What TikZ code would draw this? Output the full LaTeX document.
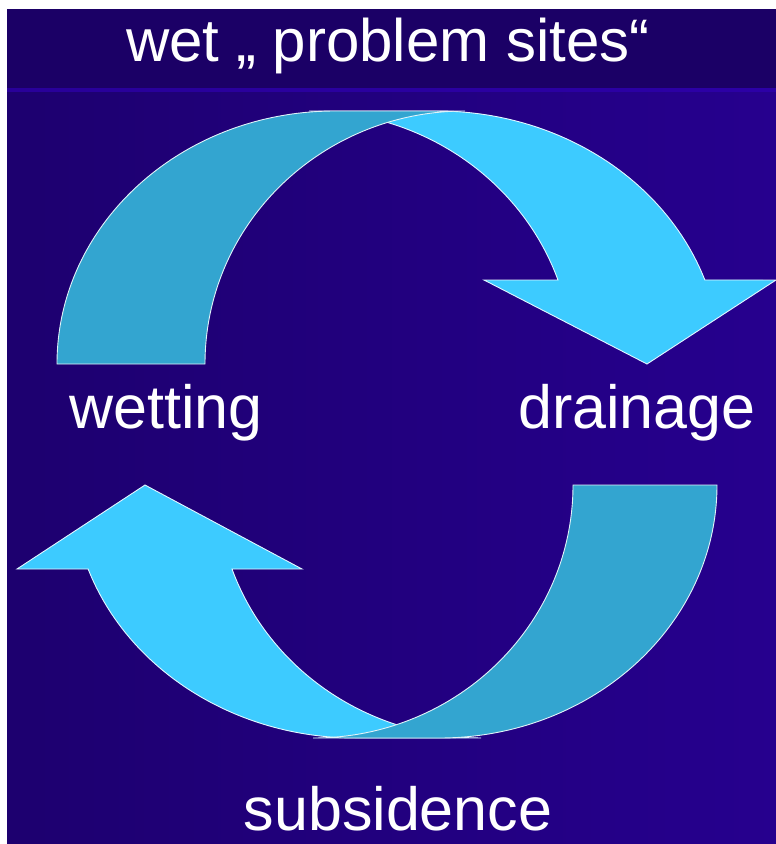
\documentclass[tikz,border=0pt]{standalone}
\usepackage{fontspec}
\setmainfont{Liberation Sans}
\usepackage{tikz}
\usetikzlibrary{positioning}
\definecolor{bandbg}{HTML}{1B0066}
\definecolor{bgleft}{HTML}{1D006F}
\definecolor{bgright}{HTML}{26008E}
\definecolor{seam}{HTML}{2C00A6}
\definecolor{headcol}{HTML}{3DCBFF}
\definecolor{tailcol}{HTML}{33A5D0}
\tikzset{
every path/.style={line width=0.9pt}
, titletext/.style={text=white,inner sep=0,anchor=base,font=\fontsize{60}{60}\selectfont}
, labeltext/.style={text=white,inner sep=0,anchor=base,font=\fontsize{61}{61}\selectfont}
, headarrow/.style={fill=headcol,draw=white!85!headcol}
, tailarrow/.style={fill=tailcol,draw=white!85!tailcol}}

\begin{document}
\begin{tikzpicture}[x=1pt,y=-1pt]
\useasboundingbox (0,0) rectangle (776,844);
\fill[white] (0,0) rectangle (776,844);
\shade[left color=bgleft,right color=bgright] (7,9) rectangle (776,844);
\fill[bandbg] (7,9) rectangle (776,88);
\shade[left color=seam!80!bandbg,right color=seam] (7,88) rectangle (776,91);
% upper arrow: head first, tail on top
\draw[headarrow] (330,111) -- (437,111) arc[start angle=-90,end angle=-19.4,x radius=284,y radius=253]
  -- (776,280) -- (647,364) -- (484,280) -- (558,280)
  arc[start angle=-19.4,end angle=-90,x radius=264,y radius=253] -- cycle;
\draw[tailarrow] (57,364) arc[start angle=180,end angle=270,x radius=278,y radius=253]
  -- (465,111) arc[start angle=270,end angle=180,x radius=260,y radius=253] -- cycle;
% lower arrow
\draw[headarrow] (460,738) -- (356,738) arc[start angle=90,end angle=160.6,x radius=284,y radius=253]
  -- (17,569) -- (145,485) -- (302,569) -- (232,569)
  arc[start angle=160.6,end angle=90,x radius=264,y radius=253] -- cycle;
\draw[tailarrow] (717,485) arc[start angle=0,end angle=90,x radius=278,y radius=253]
  -- (313,738) arc[start angle=90,end angle=0,x radius=260,y radius=253] -- cycle;
\node[titletext] (title) at (388,61) {wet „ problem sites“};
\node[labeltext] (wetting) at (166,428) {wetting};
\node[labeltext] (drainage) at (637,428) {drainage};
\node[labeltext] (subsidence) at (398,830) {subsidence};
\end{tikzpicture}
\end{document}
